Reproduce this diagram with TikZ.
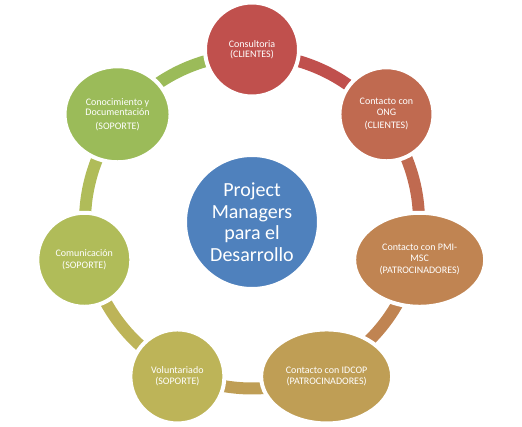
\documentclass[tikz,border=0pt]{standalone}
\usepackage{fontspec}
\setmainfont{Carlito}
\usetikzlibrary{shapes.geometric,calc}
\definecolor{cA}{RGB}{192,80,77}
\definecolor{cB}{RGB}{192,106,80}
\definecolor{cC}{RGB}{192,132,82}
\definecolor{cD}{RGB}{191,158,85}
\definecolor{cE}{RGB}{189,180,88}
\definecolor{cF}{RGB}{176,188,89}
\definecolor{cG}{RGB}{155,187,89}
\definecolor{cCenter}{RGB}{79,129,189}
\tikzset{
  outer/.style={ellipse, draw=white, line width=4pt, inner sep=0pt, align=center,
    text=white, font=\fontsize{10}{10.5}\selectfont},
  hub/.style={circle, fill=cCenter, draw=white, line width=2pt, inner sep=0pt,
    minimum size=132pt, align=center, text=white, font=\fontsize{20}{21.5}\selectfont},
  link/.style={line width=12pt}
}
\begin{document}
\begin{tikzpicture}[x=1pt,y=1pt]
\useasboundingbox (0,-426) rectangle (522,0);
\coordinate (O) at (252,-221.5);
% arcs
\draw[link,cA] ($(O)+(90:167)$) arc[start angle=90, end angle=38.571, radius=167];
\draw[link,cB] ($(O)+(38.571:167)$) arc[start angle=38.571, end angle=-12.857, radius=167];
\draw[link,cC] ($(O)+(-12.857:167)$) arc[start angle=-12.857, end angle=-64.286, radius=167];
\draw[link,cD] ($(O)+(-64.286:167)$) arc[start angle=-64.286, end angle=-115.714, radius=167];
\draw[link,cE] ($(O)+(-115.714:167)$) arc[start angle=-115.714, end angle=-167.143, radius=167];
\draw[link,cF] ($(O)+(-167.143:167)$) arc[start angle=-167.143, end angle=-218.571, radius=167];
\draw[link,cG] ($(O)+(141.429:167)$) arc[start angle=141.429, end angle=90, radius=167];
% nodes
\node[outer, fill=cA, minimum width=94pt, minimum height=94pt] (n1) at ($(O)+(90:172)$) {Consultoria\\(CLIENTES)};
\node[outer, fill=cB, minimum width=94pt, minimum height=94pt] (n2) at ($(O)+(38.571:172)$) {Contacto con\\ONG\\[3pt](CLIENTES)};
\node[outer, fill=cC, minimum width=131pt, minimum height=94pt] (n3) at ($(O)+(-12.857:172)$) {Contacto con PMI-\\MSC\\[2pt](PATROCINADORES)};
\node[outer, fill=cD, minimum width=131pt, minimum height=94pt] (n4) at ($(O)+(-64.286:172)$) {Contacto con IDCOP\\(PATROCINADORES)};
\node[outer, fill=cE, minimum width=94pt, minimum height=94pt] (n5) at ($(O)+(-115.714:172)$) {Voluntariado\\(SOPORTE)};
\node[outer, fill=cF, minimum width=94pt, minimum height=94pt] (n6) at ($(O)+(-167.143:172)$) {Comunicación\\[1pt](SOPORTE)};
\node[outer, fill=cG, minimum width=106pt, minimum height=96pt] (n7) at ($(O)+(141.429:172)$) {Conocimiento y\\Documentación\\[3pt](SOPORTE)};
\node[hub] (hub) at (252,-222) {Project\\Managers\\para el\\Desarrollo};
\end{tikzpicture}
\end{document}
